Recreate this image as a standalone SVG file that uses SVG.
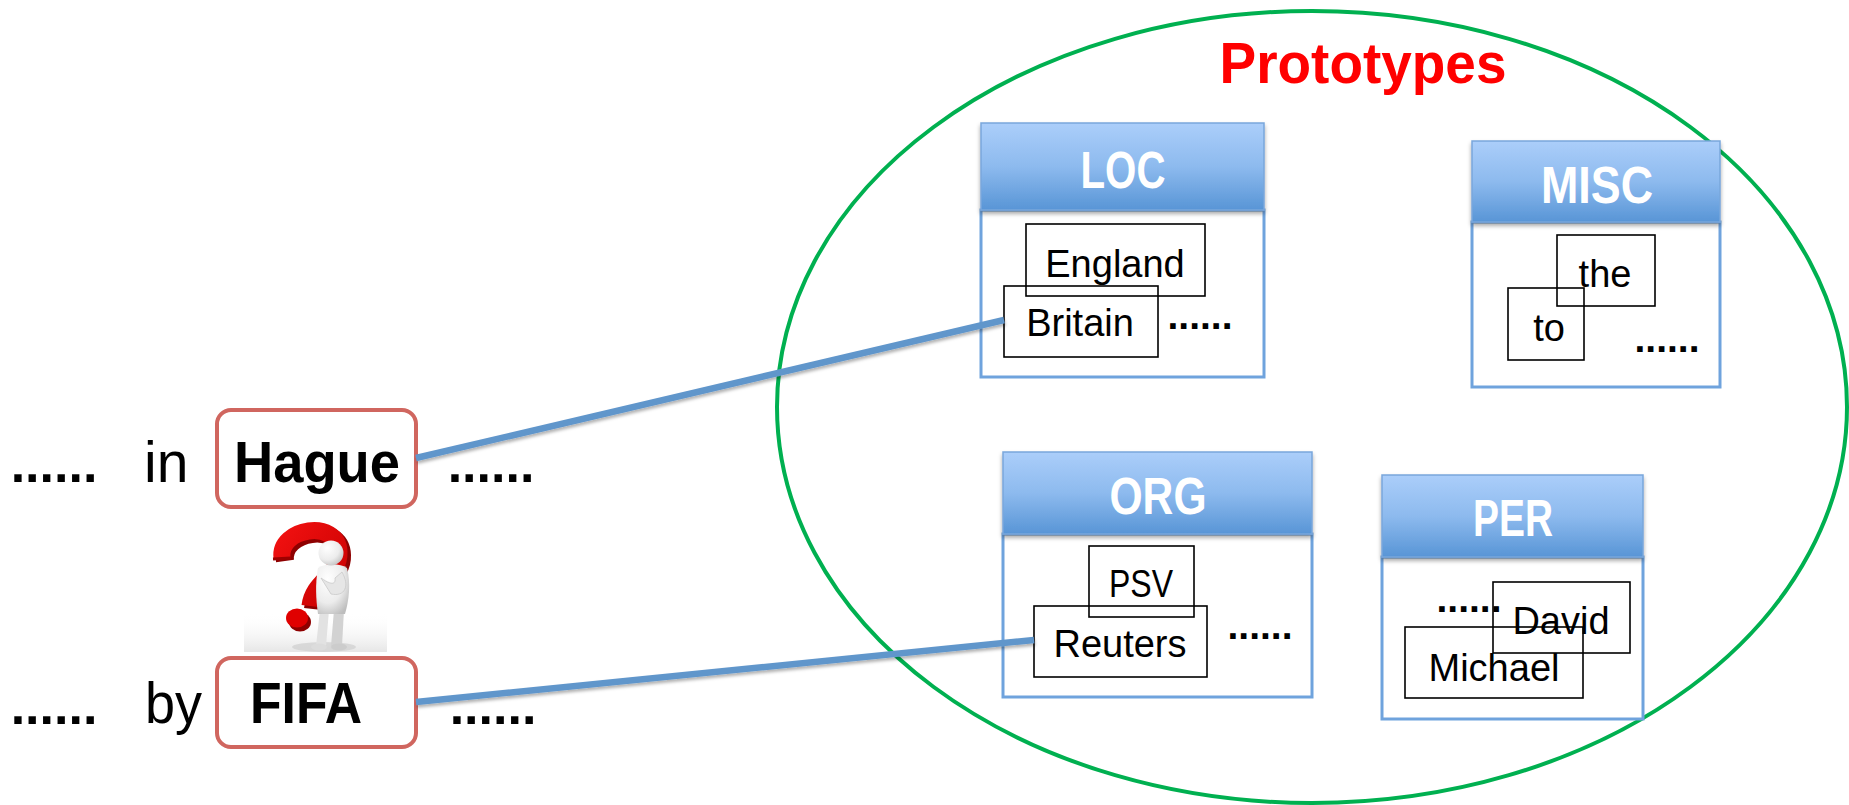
<svg xmlns="http://www.w3.org/2000/svg" width="1849" height="805" viewBox="0 0 1849 805">
  <style>
    .word { font-family: "Liberation Sans", Arial, sans-serif; font-size: 57px; fill: #000; }
    .bold { font-weight: bold; font-size: 58px; }
    .dots { font-family: "Liberation Sans", Arial, sans-serif; font-weight: bold; fill: #000; text-anchor: middle; }
    .big { font-size: 52px; }
    .small { font-size: 39px; }
    .mention { fill: none; stroke: #D0665F; stroke-width: 4; }
    .body { fill: #fff; stroke: #6FA3DD; stroke-width: 3; }
    .hdr { fill: url(#hdrGrad); stroke: #79A7DB; stroke-width: 1.5; filter: url(#hdrShadow); }
    .hdrText { font-family: "Liberation Sans", Arial, sans-serif; font-weight: bold; font-size: 51px; fill: #fff; text-anchor: middle; }
    .item { fill: none; stroke: #000; stroke-width: 1.6; }
    .itemText { font-family: "Liberation Sans", Arial, sans-serif; font-size: 38px; fill: #000; text-anchor: middle; }
    .link { stroke: #6196CB; stroke-width: 6.5; stroke-linecap: butt; filter: url(#lineShadow); }
  </style>
  <defs>
    <linearGradient id="hdrGrad" x1="0" y1="0" x2="0" y2="1">
      <stop offset="0" stop-color="#ABCEFA"/>
      <stop offset="0.5" stop-color="#8DBAEE"/>
      <stop offset="1" stop-color="#5895D6"/>
    </linearGradient>
    <filter id="hdrShadow" x="-5%" y="-10%" width="110%" height="130%">
      <feDropShadow dx="0" dy="3" stdDeviation="2.2" flood-color="#000" flood-opacity="0.35"/>
    </filter>
    <filter id="lineShadow" x="-5%" y="-50%" width="110%" height="200%">
      <feDropShadow dx="1" dy="2.5" stdDeviation="1.6" flood-color="#000" flood-opacity="0.3"/>
    </filter>
    <linearGradient id="floorGrad" x1="0" y1="0" x2="0" y2="1">
      <stop offset="0" stop-color="#fff" stop-opacity="0"/>
      <stop offset="1" stop-color="#e6e6e6"/>
    </linearGradient>
    <radialGradient id="manGrad" cx="0.35" cy="0.3" r="0.8">
      <stop offset="0" stop-color="#ffffff"/>
      <stop offset="0.6" stop-color="#ececec"/>
      <stop offset="1" stop-color="#bdbdbd"/>
    </radialGradient>
    <linearGradient id="qGrad" x1="0" y1="0" x2="1" y2="1">
      <stop offset="0" stop-color="#F01010"/>
      <stop offset="1" stop-color="#C80000"/>
    </linearGradient>
  </defs>

  <!-- prototype space -->
  <g id="prototype-space">
    <ellipse cx="1312" cy="407" rx="535" ry="396" fill="none" stroke="#00B050" stroke-width="4"/>
    <text x="1363" y="83" font-family="Liberation Sans, Arial, sans-serif" font-weight="bold" font-size="58" fill="#FF0000" text-anchor="middle" textLength="287" lengthAdjust="spacingAndGlyphs">Prototypes</text>
  </g>

  <!-- sentence 1 -->
  <g id="sentence-hague">
    <text class="dots big" x="54" y="482">......</text>
    <text class="word" x="144" y="482">in</text>
    <rect class="mention" x="217" y="410" width="199" height="97" rx="14"/>
    <text class="word bold" x="317" y="482" text-anchor="middle" textLength="166" lengthAdjust="spacingAndGlyphs">Hague</text>
    <text class="dots big" x="491" y="482">......</text>
  </g>

  <!-- sentence 2 -->
  <g id="sentence-fifa">
    <text class="dots big" x="54" y="724">......</text>
    <text class="word" x="145" y="723" textLength="57" lengthAdjust="spacingAndGlyphs">by</text>
    <rect class="mention" x="217" y="658" width="199" height="89" rx="14"/>
    <text class="word bold" x="306" y="723" text-anchor="middle" textLength="112" lengthAdjust="spacingAndGlyphs">FIFA</text>
    <text class="dots big" x="493" y="724">......</text>
  </g>

  <!-- puzzled figure with question mark -->
  <g id="thinking-figure">
    <rect x="244" y="612" width="143" height="40" fill="url(#floorGrad)"/>
    <ellipse cx="324" cy="647" rx="32" ry="5" fill="#cfcfcf" opacity="0.7"/>
    <!-- question mark: extruded side -->
    <path d="M282 558 C278 528 338 518 339 552 C340 576 313 580 310 606" fill="none" stroke="#8E0000" stroke-width="18" stroke-linecap="butt" transform="translate(3 3)"/>
    <ellipse cx="300" cy="622" rx="11" ry="9.5" fill="#8E0000"/>
    <!-- question mark: front face -->
    <path d="M282 558 C278 528 338 518 339 552 C340 576 313 580 310 606" fill="none" stroke="url(#qGrad)" stroke-width="17" stroke-linecap="butt"/>
    <path d="M273 559 L291 558" stroke="#9E0000" stroke-width="3"/>
    <ellipse cx="297" cy="618" rx="11" ry="9.5" fill="#E00000"/>
    <!-- figure -->
    <path d="M316 646 L320 610 L329 610 L326 646 Z" fill="#e2e2e2"/>
    <path d="M331 646 L334 610 L344 610 L342 646 Z" fill="#d2d2d2"/>
    <ellipse cx="319" cy="647" rx="8" ry="3.5" fill="#dcdcdc"/>
    <ellipse cx="339" cy="647" rx="8" ry="3.5" fill="#cccccc"/>
    <path d="M318 568 C315 584 316 600 318 614 L345 614 C349 600 351 584 347 568 C340 563 325 563 318 568 Z" fill="url(#manGrad)"/>
    <path d="M342 572 C350 586 345 597 331 594 L321 578 C331 585 336 585 335 578 Z" fill="#e6e6e6" stroke="#c9c9c9" stroke-width="0.8"/>
    <circle cx="331" cy="553" r="12.5" fill="url(#manGrad)"/>
  </g>

  <!-- LOC prototype -->
  <g id="node-loc">
    <rect class="body" x="981" y="210" width="283" height="167"/>
    <rect class="hdr" x="981" y="123" width="283" height="87"/>
    <text class="hdrText" x="1123" y="188" textLength="85" lengthAdjust="spacingAndGlyphs">LOC</text>
    <rect class="item" x="1026" y="224" width="179" height="72"/>
    <text class="itemText" x="1115" y="277">England</text>
    <rect class="item" x="1004" y="286" width="154" height="71"/>
    <text class="itemText" x="1080" y="336">Britain</text>
    <text class="dots small" x="1200" y="329">......</text>
  </g>

  <!-- MISC prototype -->
  <g id="node-misc">
    <rect class="body" x="1472" y="222" width="248" height="165"/>
    <rect class="hdr" x="1472" y="141" width="248" height="81"/>
    <text class="hdrText" x="1597" y="203" textLength="112" lengthAdjust="spacingAndGlyphs">MISC</text>
    <rect class="item" x="1557" y="235" width="98" height="71"/>
    <text class="itemText" x="1605" y="287">the</text>
    <rect class="item" x="1508" y="288" width="76" height="72"/>
    <text class="itemText" x="1549" y="341">to</text>
    <text class="dots small" x="1667" y="352">......</text>
  </g>

  <!-- ORG prototype -->
  <g id="node-org">
    <rect class="body" x="1003" y="534" width="309" height="163"/>
    <rect class="hdr" x="1003" y="452" width="309" height="82"/>
    <text class="hdrText" x="1158" y="514" textLength="97" lengthAdjust="spacingAndGlyphs">ORG</text>
    <rect class="item" x="1089" y="546" width="105" height="71"/>
    <text class="itemText" x="1141" y="597" textLength="64" lengthAdjust="spacingAndGlyphs">PSV</text>
    <rect class="item" x="1034" y="606" width="173" height="71"/>
    <text class="itemText" x="1120" y="657">Reuters</text>
    <text class="dots small" x="1260" y="639">......</text>
  </g>

  <!-- PER prototype -->
  <g id="node-per">
    <rect class="body" x="1382" y="557" width="261" height="162"/>
    <rect class="hdr" x="1382" y="475" width="261" height="82"/>
    <text class="hdrText" x="1513" y="536" textLength="80" lengthAdjust="spacingAndGlyphs">PER</text>
    <text class="dots small" x="1469" y="612">......</text>
    <rect class="item" x="1493" y="582" width="137" height="71"/>
    <text class="itemText" x="1561" y="634">David</text>
    <rect class="item" x="1405" y="627" width="178" height="71"/>
    <text class="itemText" x="1494" y="681">Michael</text>
  </g>

  <!-- connectors: mention to nearest prototype -->
  <g id="connectors">
    <line class="link" x1="416" y1="458" x2="1004" y2="320"/>
    <line class="link" x1="416" y1="702" x2="1034" y2="640"/>
  </g>
</svg>
